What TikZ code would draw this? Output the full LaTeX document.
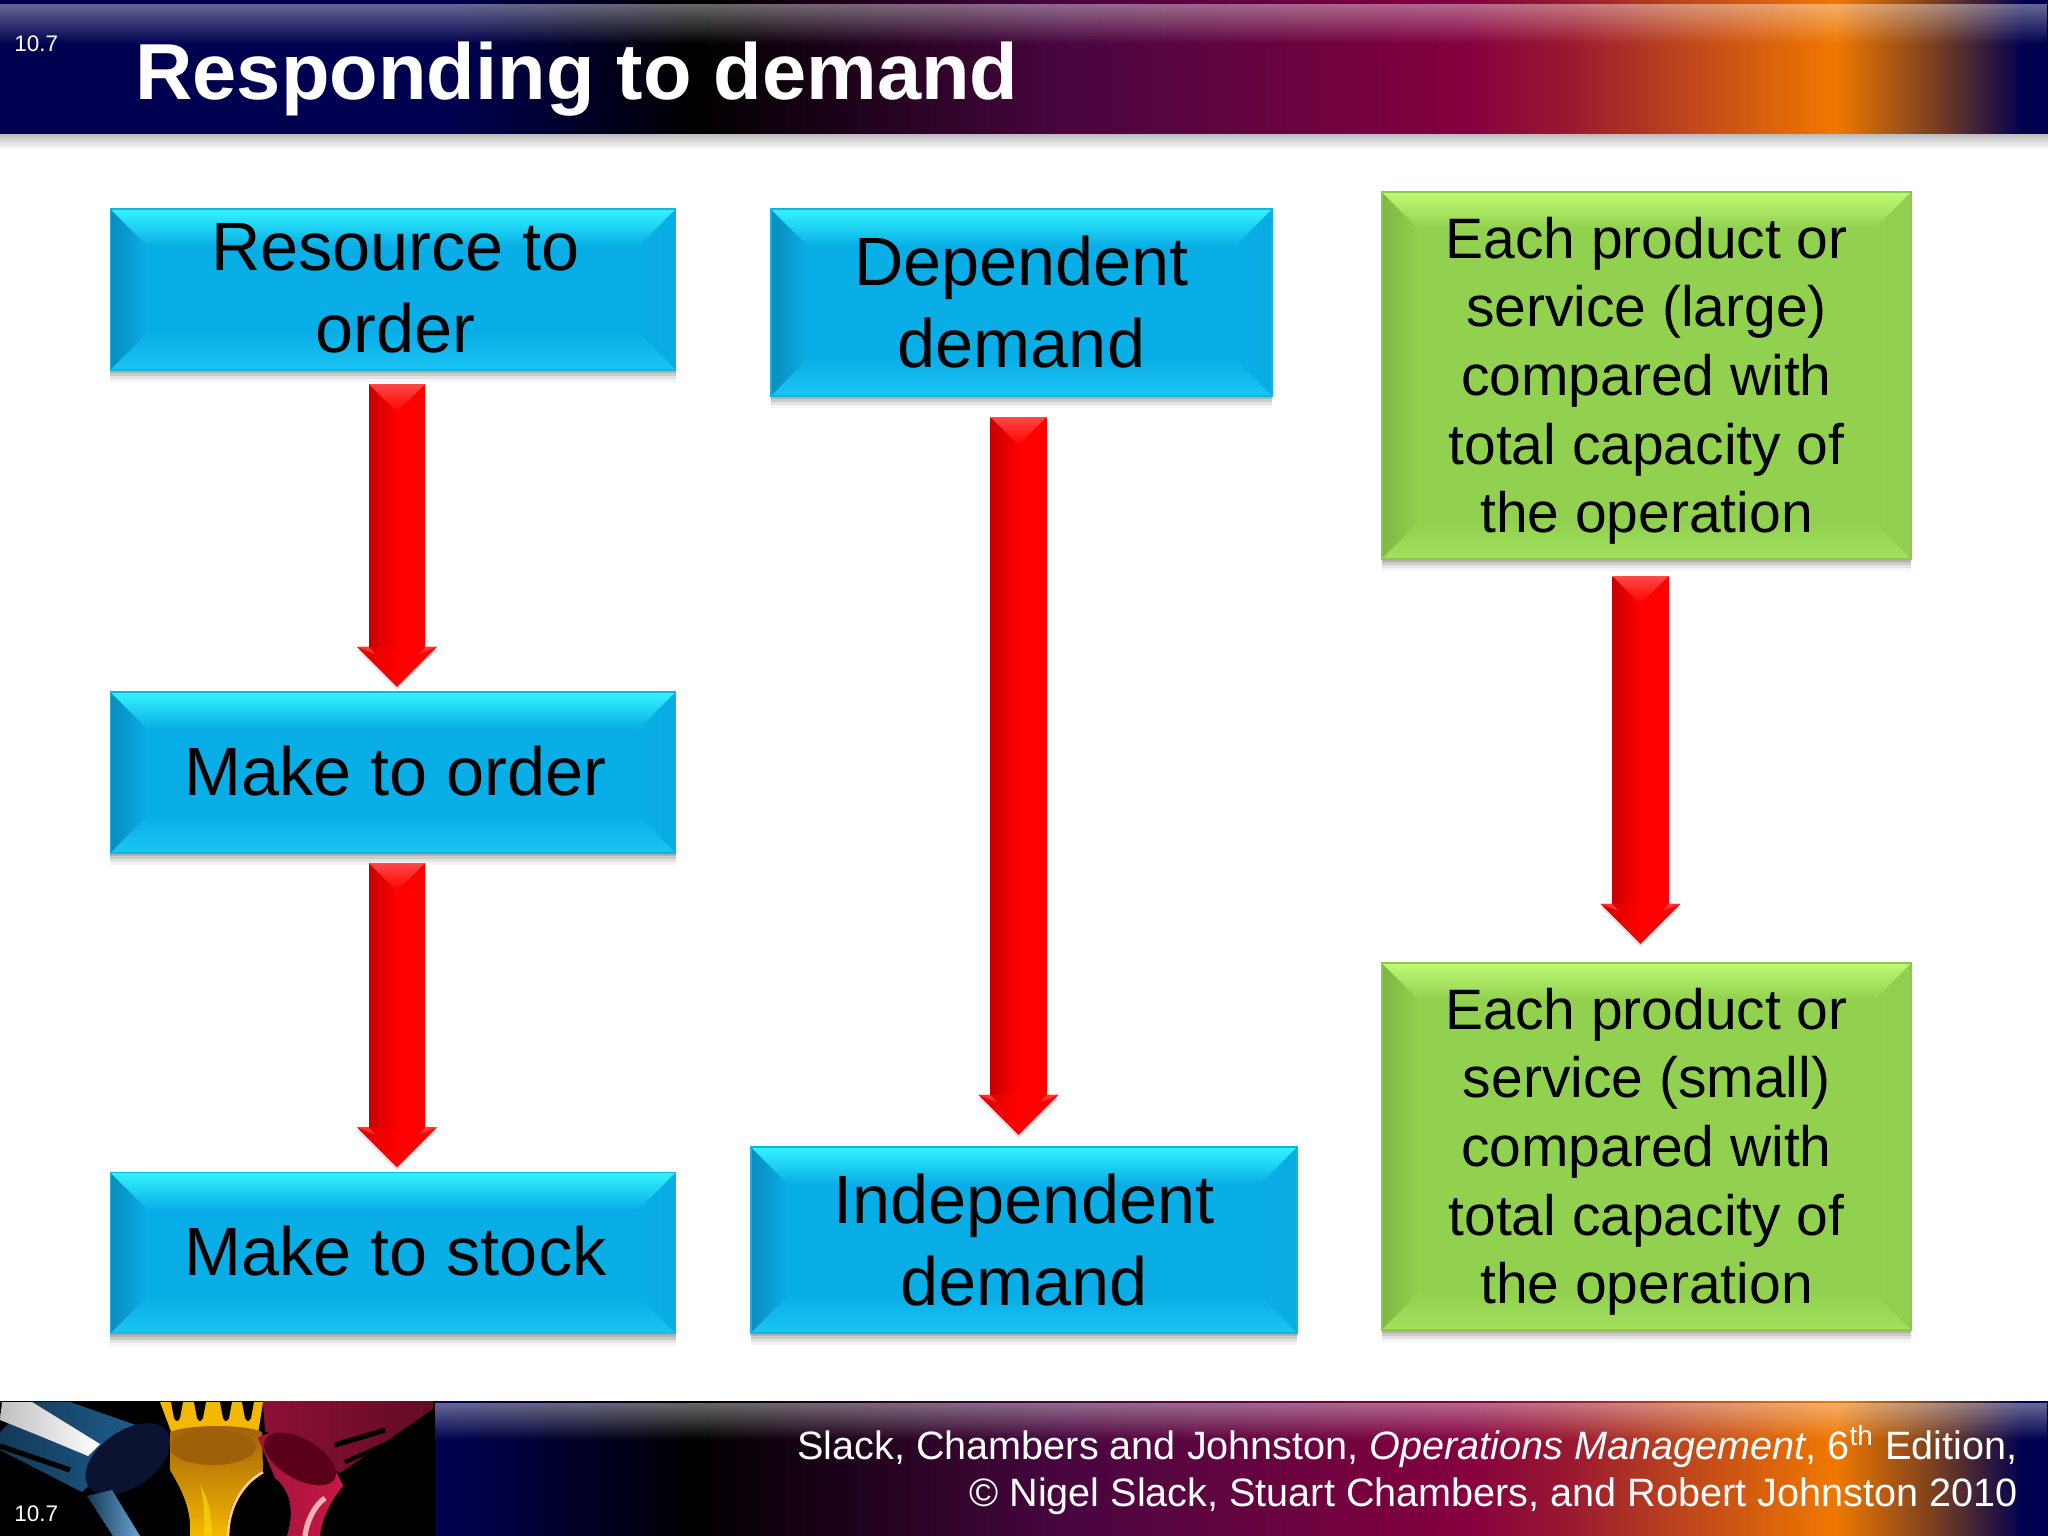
\documentclass[tikz,border=0pt]{standalone}
\usepackage{fontspec}
\setmainfont{Liberation Sans}
\usetikzlibrary{calc,fadings,shadows}

\definecolor{barnavy}{HTML}{000050}
\definecolor{barplum}{HTML}{48063F}
\definecolor{barwine}{HTML}{85003F}
\definecolor{barcrim}{HTML}{9A1830}
\definecolor{barrust}{HTML}{B84020}
\definecolor{barorange}{HTML}{F07800}
\definecolor{barbrown}{HTML}{7A4020}
\definecolor{bluebase}{HTML}{0AAEE6}
\definecolor{bluetop}{HTML}{33F3FF}
\definecolor{blueside}{HTML}{0A8CBE}
\definecolor{bluelow}{HTML}{1CC4F4}
\definecolor{blueedge}{HTML}{12B4DC}
\definecolor{greenbase}{HTML}{92D050}
\definecolor{greentop}{HTML}{BEFA72}
\definecolor{greenside}{HTML}{7DB844}
\definecolor{greenlow}{HTML}{A2E05E}
\definecolor{greenedge}{HTML}{8CC84A}
\definecolor{paintblue}{HTML}{1F5F90}
\definecolor{paintsky}{HTML}{2E80C0}
\definecolor{paintnight}{HTML}{0A1430}
\definecolor{paintgold}{HTML}{F4B800}
\definecolor{paintamber}{HTML}{A0600A}
\definecolor{paintred}{HTML}{C81848}
\definecolor{paintwine}{HTML}{8C1034}
\definecolor{paintdark}{HTML}{5A0018}

\pgfdeclarehorizontalshading{barshade}{100bp}{color(0bp)=(barnavy); color(36bp)=(barnavy); color(42bp)=(black); color(51bp)=(barplum); color(60.8bp)=(barwine); color(63.3bp)=(barcrim); color(65.7bp)=(barrust); color(69.8bp)=(barorange); color(72.2bp)=(barbrown); color(74.4bp)=(barnavy); color(100bp)=(barnavy)}

\newcommand{\bevelfill}[4]{
	\coordinate (nw) at (path picture bounding box.north west);
	\coordinate (ne) at (path picture bounding box.north east);
	\coordinate (sw) at (path picture bounding box.south west);
	\coordinate (se) at (path picture bounding box.south east);
	\shade[left color=#2,right color=#1] (nw) -- ($(nw)+(37,37)$) -- ($(sw)+(37,-37)$) -- (sw) -- cycle;
	\shade[left color=#1,right color=#1!93!#2] (ne) -- ($(ne)+(-37,37)$) -- ($(se)+(-37,-37)$) -- (se) -- cycle;
	\shade[top color=#3,bottom color=#1] (nw) -- (ne) -- ($(ne)+(-37,37)$) -- ($(nw)+(37,37)$) -- cycle;
	\shade[top color=#1,middle color=#1,bottom color=#4] (sw) -- (se) -- ($(se)+(-37,-37)$) -- ($(sw)+(37,-37)$) -- cycle;
}

\newcommand{\fatarrow}[5]{
	\coordinate (t) at ($(#1.south)+(#3,#4)$);
	\coordinate (e) at ($(t |- #2.north)+(0,-#5)$);
	\fill[gray,opacity=.25,transform canvas={yshift=-.03cm}] ($(t)+(-28,0)$) -- ($(t)+(28,0)$) -- ($(e)+(28,-40)$) -- ($(e)+(40,-40)$) -- (e) -- ($(e)+(-40,-40)$) -- ($(e)+(-28,-40)$) -- cycle;
	\shade[left color=red!78!black,right color=red,middle color=red] ($(t)+(-28,0)$) rectangle ($(e)+(28,-38)$);
	\shade[left color=red!85!black,right color=red,middle color=red] ($(e)+(-40,-40)$) -- ($(e)+(40,-40)$) -- (e) -- cycle;
	\shade[top color=red!72!white,bottom color=red] ($(t)+(-28,0)$) -- ($(t)+(28,0)$) -- ($(t)+(0,28)$) -- cycle;
	\fill[red!80!white] ($(e)+(-40,-40)$) -- ($(e)+(-28,-40)$) -- ($(e)+(-22,-33)$) -- cycle;
	\fill[red!80!white] ($(e)+(40,-40)$) -- ($(e)+(28,-40)$) -- ($(e)+(22,-33)$) -- cycle;
}

\tikzset{
	x=.01cm, y=-.01cm,
	softshadow/.style={drop shadow={shadow xshift=0cm,shadow yshift=-.03cm,opacity=.13,fill=black},
		drop shadow={shadow xshift=0cm,shadow yshift=-.06cm,opacity=.1,fill=black},
		drop shadow={shadow xshift=0cm,shadow yshift=-.09cm,opacity=.07,fill=black},
		drop shadow={shadow xshift=0cm,shadow yshift=-.12cm,opacity=.04,fill=black}},
	bigtext/.style={font=\fontsize{19.45}{23.3}\selectfont, align=center, text=black},
	smalltext/.style={font=\fontsize{16.2}{19.5}\selectfont, align=center, text=black, execute at begin node={\rule{0pt}{3.26cm}}},
	bluebox/.style={rectangle, inner sep=0pt, outer sep=0pt, minimum width=5.65cm, minimum height=1.61cm, draw=blueedge, line width=.4pt, softshadow, bigtext,
		path picture={\fill[bluebase] (path picture bounding box.north west) rectangle (path picture bounding box.south east); \bevelfill{bluebase}{blueside}{bluetop}{bluelow}}},
	leftcol/.style={execute at begin node={\hspace*{.05cm}\rule[-.04cm]{0pt}{0pt}}},
	greenbox/.style={rectangle, inner sep=0pt, outer sep=0pt, minimum width=5.29cm, minimum height=3.67cm, draw=greenedge, line width=.4pt, softshadow, smalltext,
		path picture={\fill[greenbase] (path picture bounding box.north west) rectangle (path picture bounding box.south east); \bevelfill{greenbase}{greenside}{greentop}{greenlow}}},
	sliderefs/.style={font=\fontsize{6.4}{7.5}\selectfont, text=white, anchor=base west},
}

\begin{document}
\begin{tikzpicture}
	\useasboundingbox (0,0) rectangle (2048,1536);
	\fill[white] (0,0) rectangle (2048,1536);
	% header bar
	\shade[top color=gray!55,bottom color=white] (0,133) rectangle (2048,150);
	\shade[shading=barshade] (0,0) rectangle (2048,133);
	\fill[white,opacity=.4,path fading=south] (0,4) rectangle (2048,44);
	\node[sliderefs] (numtop) at (2,51) {10.7};
	\node[font=\bfseries\fontsize{22.6}{26}\selectfont, text=white, anchor=base west] (title) at (123,99) {Responding to demand};
	% footer bar
	\shade[shading=barshade] (0,1401) rectangle (2048,1536);
	\fill[white,opacity=.4,path fading=south] (0,1403) rectangle (2048,1440);
	\fill[black] (0,1401) rectangle (435,1536);
	% blue funnel
	\shade[left color=paintblue!60!black,right color=paintblue] (0,1432) -- (0,1450) -- (82,1492) -- (150,1430) -- (70,1402) -- (30,1402) -- cycle;
	\shade[left color=gray!50!white,right color=white] (2,1402) -- (32,1402) -- (100,1444) -- (88,1456) -- (40,1436) -- (0,1420) -- cycle;
	\draw[black,line width=1.5pt] (0,1446) -- (70,1470);
	\fill[paintnight,rotate around={35:(128,1459)}] (128,1459) ellipse (48 and 28);
	\shade[left color=paintblue!60!black,right color=paintsky!70!white] (87,1496) -- (112,1490) -- (140,1536) -- (113,1536) -- cycle;
	% yellow funnel
	\fill[paintgold] (160,1402) -- (263,1402) -- (258,1434) -- (172,1434) -- cycle;
	\foreach \gapx in {177,200,226,248}
		\fill[black] (\gapx-6,1402) -- (\gapx+6,1402) -- (\gapx+3,1418) .. controls (\gapx+1,1422) and (\gapx-1,1422) .. (\gapx-3,1418) -- cycle;
	\shade[top color=paintamber,middle color=paintgold,bottom color=paintgold] (170,1432) .. controls (190,1424) and (245,1424) .. (262,1432) -- (263,1470) .. controls (238,1485) and (226,1510) .. (227,1536) -- (190,1536) .. controls (192,1510) and (182,1490) .. (170,1470) -- cycle;
	\fill[paintamber] (213,1447) ellipse (43 and 18);
	\fill[yellow!40!paintgold,opacity=.8] (204,1536) .. controls (205,1510) and (203,1495) .. (200,1485) .. controls (206,1495) and (212,1510) .. (212,1536) -- cycle;
	\draw[orange!40!white,line width=.8pt] (228,1536) .. controls (228,1510) and (240,1485) .. (263,1472);
	% red funnel
	\shade[left color=paintwine,right color=paintwine!70!black] (263,1401) -- (433,1401) -- (433,1409) -- (340,1473) -- (265,1431) -- cycle;
	\draw[black,line width=1.5pt] (335,1445) -- (385,1430);
	\draw[black,line width=1.2pt] (345,1462) -- (395,1440);
	\shade[left color=paintred!80!black,right color=paintred] (258,1438) .. controls (268,1428) and (320,1430) .. (343,1486) .. controls (335,1495) and (322,1515) .. (320,1536) -- (287,1536) .. controls (295,1510) and (290,1490) .. (275,1478) -- cycle;
	\fill[paintdark,rotate around={-30:(300,1459)}] (300,1459) ellipse (40 and 20);
	\draw[red!30!white,line width=1.5pt] (305,1536) .. controls (307,1520) and (315,1505) .. (325,1498);
	\node[sliderefs] (numbot) at (2,1521) {10.7};
	\node[font=\fontsize{11.26}{13.6}\selectfont, text=white, align=right, anchor=east] (source) at (2030,1470) {Slack, Chambers and Johnston, \textit{Operations Management}, 6\textsuperscript{th} Edition,\\\textcopyright{} Nigel Slack, Stuart Chambers, and Robert Johnston 2010};
	% left column
	\node[bluebox, leftcol] (rto) at (393,289.5) {Resource to\\order};
	\node[bluebox, leftcol] (mto) at (393,772.5) {Make to order};
	\node[bluebox, leftcol] (mts) at (393,1253) {Make to stock};
	% middle column
	\node[bluebox, minimum width=5.01cm, minimum height=1.87cm] (dep) at (1021.5,302.5) {Dependent\\demand};
	\node[bluebox, minimum width=5.46cm, minimum height=1.86cm] (ind) at (1024,1240) {Independent\\demand};
	% right column
	\node[greenbox] (large) at (1646.5,375.5) {Each product or\\service (large)\\compared with\\total capacity of\\the operation};
	\node[greenbox] (small) at (1646.5,1146.5) {Each product or\\service (small)\\compared with\\total capacity of\\the operation};
	% arrows
	\fatarrow{rto}{mto}{4}{14}{5}
	\fatarrow{mto}{mts}{4}{10}{5}
	\fatarrow{dep}{ind}{-3}{21}{12}
	\fatarrow{large}{small}{-6}{17}{19}
\end{tikzpicture}
\end{document}
